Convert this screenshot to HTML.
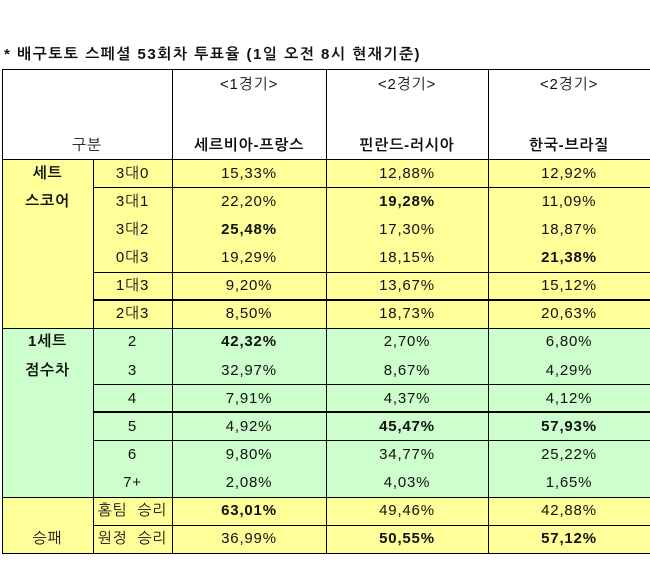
<!DOCTYPE html>
<html><head><meta charset="utf-8">
<style>
html,body{margin:0;padding:0;background:#fff;}
#root{position:relative;width:650px;height:580px;overflow:hidden;font-family:"Liberation Sans","NanumGothic","Noto Sans CJK KR",sans-serif;font-size:15px;letter-spacing:0.8px;color:#111;}
.c{position:absolute;display:flex;align-items:center;justify-content:center;white-space:nowrap;}
.b{font-weight:bold;}
.ln{position:absolute;background:#000;}
</style></head>
<body>
<div id="root">
<div class="c b" style="left:4px;top:45px;height:18px;justify-content:flex-start;letter-spacing:1.5px;">* 배구토토 스페셜 53회차 투표율 (1일 오전 8시 현재기준)</div>
</div>
<script>
const matchLabels=['<1경기>','<2경기>','<2경기>'];
const matchNames=['세르비아-프랑스','핀란드-러시아','한국-브라질'];
const rowLabels=['3대0','3대1','3대2','0대3','1대3','2대3','2','3','4','5','6','7+','홈팀  승리','원정  승리'];
const col1Values=['15,33%','22,20%','25,48%','19,29%','9,20%','8,50%','42,32%','32,97%','7,91%','4,92%','9,80%','2,08%','63,01%','36,99%'];
const col2Values=['12,88%','19,28%','17,30%','18,15%','13,67%','18,73%','2,70%','8,67%','4,37%','45,47%','34,77%','4,03%','49,46%','50,55%'];
const col3Values=['12,92%','11,09%','18,87%','21,38%','15,12%','20,63%','6,80%','4,29%','4,12%','57,93%','25,22%','1,65%','42,88%','57,12%'];
const boldCells=[[2,6,12],[1,9,13],[3,9,13]];
const groupLabels=[[0,'세트',true],[1,'스코어',true],[6,'1세트',true],[7,'점수차',true],[13,'승패',false]];
const root=document.getElementById('root');
const X=[2,93,172,326,488,650];
const top0=159,rh=28.14;
function cell(x,y,w,h,txt,bold,bg){
  const d=document.createElement('div');
  d.className='c'+(bold?' b':'');
  d.style.cssText=`left:${x}px;top:${y}px;width:${w}px;height:${h}px;`+(bg?`background:${bg};`:'');
  d.textContent=txt;root.appendChild(d);return d;
}
function line(x,y,w,h){
  const d=document.createElement('div');d.className='ln';
  d.style.cssText=`left:${x}px;top:${y}px;width:${w}px;height:${h}px;`;
  
  
  root.appendChild(d);
}
function bgFor(i){return (i>=6&&i<=11)?'#ccffcc':'#ffff99';}
[[0,6],[6,12],[12,14]].forEach(g=>{
  const d=cell(X[0],top0+g[0]*rh,X[1]-X[0],(g[1]-g[0])*rh,'',false,bgFor(g[0]));
  
  
});
groupLabels.forEach(g=>{
  const d=cell(X[0],top0+g[0]*rh,X[1]-X[0],rh,g[1],g[2],null);
  
  
});
let h=cell(X[0],130,X[2]-X[0],30,'구분',false,null);


for(let j=0;j<3;j++){
  let a=cell(X[j+2],72,X[j+3]-X[j+2],24,matchLabels[j],false,null);
  
  
  let n=cell(X[j+2],130,X[j+3]-X[j+2],30,matchNames[j],true,null);
  
  
}
const cols=[col1Values,col2Values,col3Values];
for(let i=0;i<rowLabels.length;i++){
  const y=top0+i*rh;
  const r=cell(X[1],y,X[2]-X[1],rh,rowLabels[i],false,bgFor(i));
  r.style.whiteSpace='pre';
  
  
  for(let j=0;j<3;j++){
    const v=cell(X[j+2],y,X[j+3]-X[j+2],rh,cols[j][i],boldCells[j].includes(i),bgFor(i));
    
    
  }
}
line(X[0],69,650,1);line(X[0],159,650,1);line(X[0],top0+14*rh,650,1.5);
line(X[0],top0+6*rh,650,1);line(X[0],top0+12*rh,650,1);
[[1,1],[4,1],[5,2],[8,1],[9,2],[10,1],[13,1]].forEach(b=>line(X[1],top0+b[0]*rh-(b[1]>1?1:0),650-X[1],b[1]));
line(X[0],69,1,top0+14*rh-69);line(X[1],159,1,top0+14*rh-159);
for(let k=2;k<5;k++)line(X[k],69,1,top0+14*rh-69);
</script>
</body></html>
